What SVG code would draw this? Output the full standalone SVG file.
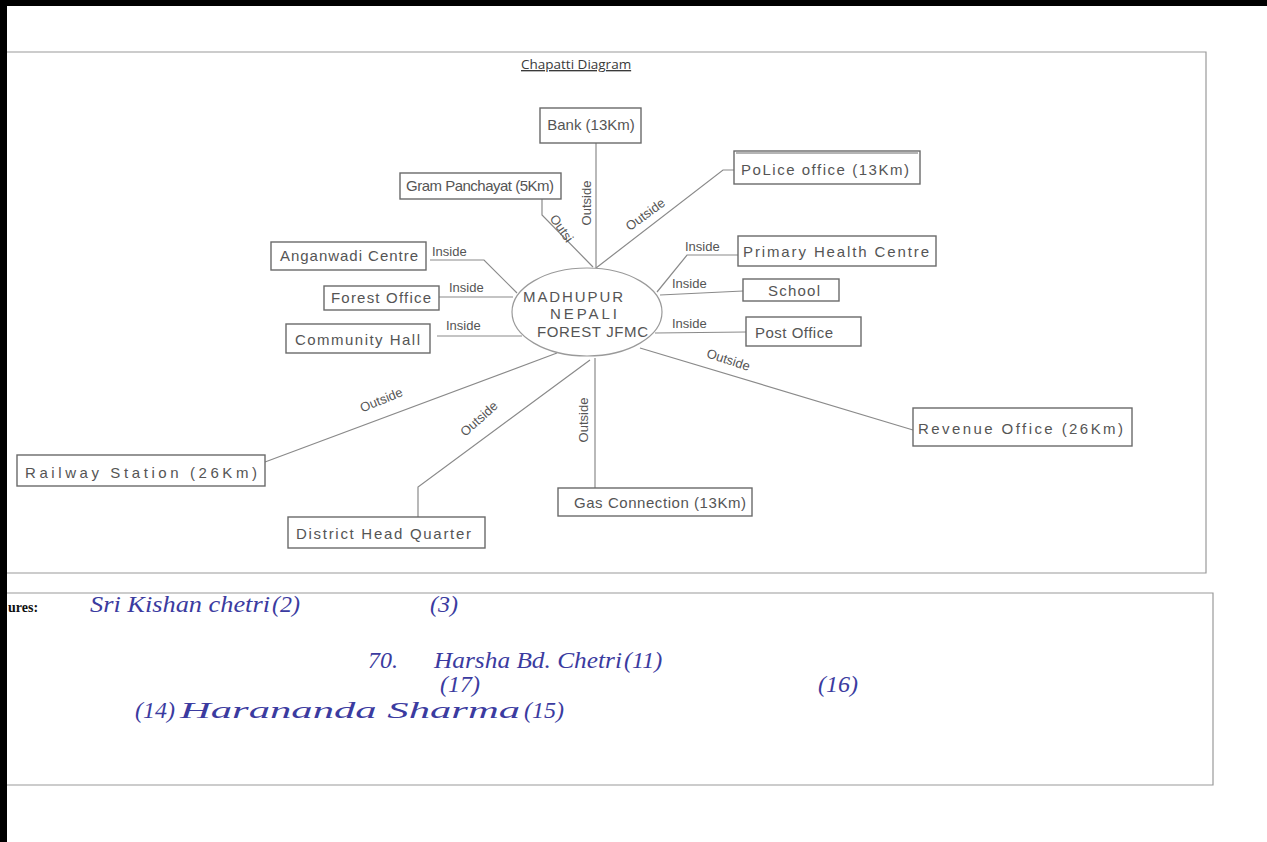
<svg xmlns="http://www.w3.org/2000/svg" width="1267" height="842" viewBox="0 0 1267 842">
<style>
.frame{fill:none;stroke:#9a9a9a;stroke-width:1.2}
.box{fill:#fff;stroke:#6a6a6a;stroke-width:1.4}
.conn{fill:none;stroke:#8a8a8a;stroke-width:1.2}
.lbl{font-family:"Liberation Sans",Arial,sans-serif;font-size:15px;fill:#555}
.edge{font-family:"Liberation Sans",Arial,sans-serif;font-size:13px;fill:#555}
.title{font-family:"Open Sans","Liberation Sans",sans-serif;font-size:13.5px;fill:#3a3a3a;text-decoration:underline}
.hand{font-family:"Liberation Serif","Times New Roman",serif;font-style:italic;font-size:24px;fill:#3b3ba0}
.sig{font-family:"Liberation Serif","Times New Roman",serif;font-weight:bold;font-size:14px;fill:#111}
</style>
<rect x="0" y="0" width="1267" height="842" fill="#fff"/>
<rect x="0" y="0" width="1267" height="6" fill="#000"/>
<rect x="0" y="0" width="7" height="842" fill="#000"/>
<path class="frame" d="M7,52 H1206 V573 H7"/>
<text class="title" x="521" y="69">Chapatti Diagram</text>

<g id="connectors">
<path class="conn" d="M596,143 V268"/>
<path class="conn" d="M734,170 H723 L596,268"/>
<path class="conn" d="M542,199 V215 L593,267"/>
<path class="conn" d="M430,260 H484 L517,293"/>
<path class="conn" d="M439,297 H513"/>
<path class="conn" d="M437,336 H522"/>
<path class="conn" d="M738,255 H687 L657,292"/>
<path class="conn" d="M743,291 L660,295"/>
<path class="conn" d="M746,332 L655,333"/>
<path class="conn" d="M913,430 L640,348"/>
<path class="conn" d="M265,462 L557,353"/>
<path class="conn" d="M418,517 V487 L590,360"/>
<path class="conn" d="M595,358 V500"/>
<text class="edge" transform="translate(591,203) rotate(-90)" text-anchor="middle" font-size="12">Outside</text>
<text class="edge" transform="translate(558,231) rotate(55)" text-anchor="middle" font-size="11">Outsi</text>
<text class="edge" transform="translate(648,218) rotate(-36)" text-anchor="middle">Outside</text>
<text class="edge" x="432" y="256">Inside</text>
<text class="edge" x="449" y="292">Inside</text>
<text class="edge" x="446" y="330" font-size="14">Inside</text>
<text class="edge" x="685" y="251">Inside</text>
<text class="edge" x="672" y="288">Inside</text>
<text class="edge" x="672" y="328" font-size="14">Inside</text>
<text class="edge" transform="translate(727,364) rotate(18)" text-anchor="middle" font-size="14">Outside</text>
<text class="edge" transform="translate(383,404) rotate(-22)" text-anchor="middle" font-size="14">Outside</text>
<text class="edge" transform="translate(482,422) rotate(-42)" text-anchor="middle" font-size="15">Outside</text>
<text class="edge" transform="translate(588,420) rotate(-90)" text-anchor="middle" font-size="14">Outside</text>
</g>

<g id="center">
<ellipse cx="587" cy="312" rx="75" ry="44" fill="#fff" stroke="#9a9a9a" stroke-width="1.2"/>
<text class="lbl" x="523" y="302" font-size="14" textLength="100">MADHUPUR</text>
<text class="lbl" x="550" y="319" font-size="14" textLength="67">NEPALI</text>
<text class="lbl" x="537" y="337" font-size="14" textLength="111">FOREST JFMC</text>
</g>

<g id="bank"><rect class="box" x="540" y="108" width="101" height="35"/><text class="lbl" x="591" y="130" font-size="12" text-anchor="middle">Bank (13Km)</text></g>
<g id="police"><rect class="box" x="734" y="151" width="186" height="33"/><line x1="736" y1="153" x2="918" y2="153" stroke="#6a6a6a" stroke-width="1"/><text class="lbl" x="741" y="175" font-size="17.5" textLength="168">PoLice office (13Km)</text></g>
<g id="gram"><rect class="box" x="400" y="173" width="161" height="26"/><text class="lbl" x="406" y="191" font-size="13.5" textLength="148">Gram Panchayat (5Km)</text></g>
<g id="anganwadi"><rect class="box" x="271" y="242" width="155" height="28"/><text class="lbl" x="280" y="261" font-size="16.5" textLength="138">Anganwadi Centre</text></g>
<g id="forest"><rect class="box" x="324" y="286" width="115" height="24"/><text class="lbl" x="331" y="303" font-size="16" textLength="100">Forest Office</text></g>
<g id="community"><rect class="box" x="286" y="324" width="144" height="29"/><text class="lbl" x="295" y="345" font-size="17" textLength="125">Community Hall</text></g>
<g id="phc"><rect class="box" x="738" y="236" width="198" height="30"/><text class="lbl" x="743" y="257" font-size="18" textLength="186">Primary Health Centre</text></g>
<g id="school"><rect class="box" x="743" y="279" width="96" height="22"/><text class="lbl" x="768" y="296" font-size="15" textLength="52">School</text></g>
<g id="post"><rect class="box" x="746" y="317" width="115" height="29"/><text class="lbl" x="755" y="338" font-size="15" textLength="78">Post Office</text></g>
<g id="revenue"><rect class="box" x="913" y="408" width="219" height="38"/><text class="lbl" x="918" y="434" font-size="19.5" textLength="205">Revenue Office (26Km)</text></g>
<g id="railway"><rect class="box" x="17" y="455" width="248" height="31"/><text class="lbl" x="25" y="478" font-size="20" textLength="232">Railway Station (26Km)</text></g>
<g id="district"><rect class="box" x="288" y="517" width="197" height="31"/><text class="lbl" x="296" y="539" font-size="17" textLength="175">District Head Quarter</text></g>
<g id="gas"><rect class="box" x="558" y="488" width="194" height="28"/><text class="lbl" x="574" y="508" font-size="16.5" textLength="172">Gas Connection (13Km)</text></g>

<g id="signatures">
<path class="frame" d="M7,593 H1213 V785 H7" stroke="#777"/>
<text class="sig" x="8" y="612">ures:</text>
<text class="hand" x="90" y="612" textLength="180" lengthAdjust="spacingAndGlyphs">Sri Kishan chetri</text>
<text class="hand" x="272" y="612">(2)</text>
<text class="hand" x="430" y="612">(3)</text>
<text class="hand" x="368" y="668">70.</text>
<text class="hand" x="434" y="668" textLength="188" lengthAdjust="spacingAndGlyphs">Harsha Bd. Chetri</text>
<text class="hand" x="624" y="668">(11)</text>
<text class="hand" x="440" y="692" font-size="19">(17)</text>
<text class="hand" x="818" y="692">(16)</text>
<text class="hand" x="135" y="718">(14)</text>
<text class="hand" x="180" y="718" font-size="28" textLength="340" lengthAdjust="spacingAndGlyphs">Harananda Sharma</text>
<text class="hand" x="524" y="718" font-size="19">(15)</text>
</g>
</svg>
